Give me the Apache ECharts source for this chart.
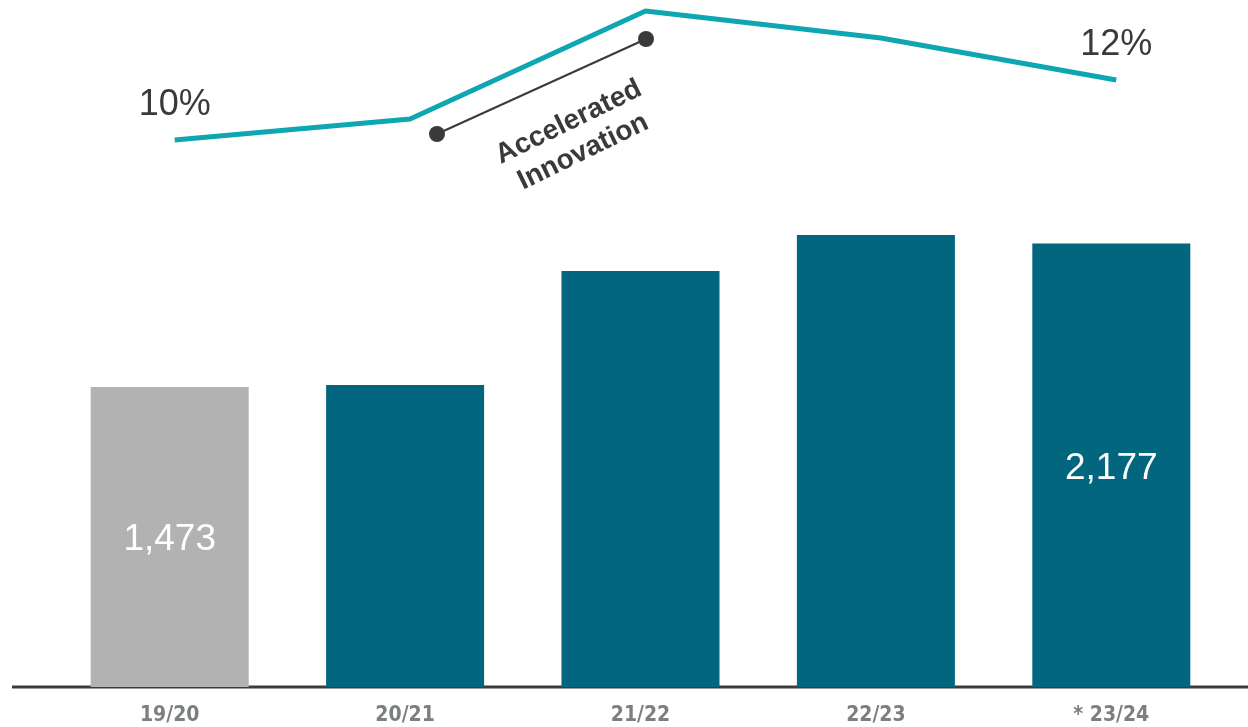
<!DOCTYPE html>
<html style="height: 100%">
<head>
    <meta charset="utf-8" />
    <title>Bar Line Chart</title>
    <script type="text/javascript" src="https://cdn.jsdelivr.net/npm/echarts@6/dist/echarts.min.js"></script>
</head>
<body style="height: 100%; margin: 0; background: #fff">
<div id="main" style="width: 1248px; height: 727px"></div>
<script type="text/javascript">
      // data
      var categories = ["19/20", "20/21", "21/22", "22/23", "* 23/24"];
      var barValues = [1473, 1483, 2042, 2219, 2177];
      var lineValues = [10.0, 10.7, 14.3, 13.4, 12.0];
      var barLabels = ["1,473", "", "", "", "2,177"];
      var lineLabels = ["10%", "", "", "", "12%"];

      var teal = "#02677e", grey = "#b1b2b1", lineColor = "#0ea6b1", dark = "#3a3a3a";

      let myChart = echarts.init(document.getElementById("main"));
      var option = {
        animation: false,
        grid: [
          { left: 52, right: 19, top: 76, bottom: 40 },
          { left: 57, right: 14, top: 5, height: 165 }
        ],
        xAxis: [
          {
            type: "category", gridIndex: 0, data: categories,
            axisLine: { show: false }, axisTick: { show: false },
            axisLabel: {
              margin: 18, color: "#7c807d", fontSize: 21, fontWeight: "bold",
              fontFamily: "DejaVu Sans Condensed, Liberation Sans Narrow, sans-serif"
            }
          },
          { type: "category", gridIndex: 1, data: categories, show: false }
        ],
        yAxis: [
          { type: "value", gridIndex: 0, min: 0, max: 3000, show: false },
          { type: "value", gridIndex: 1, min: 9, max: 14.5, show: false }
        ],
        series: [
          {
            type: "bar",
            xAxisIndex: 0, yAxisIndex: 0,
            barWidth: 158,
            data: barValues.map(function (v, i) {
              return {
                value: v,
                itemStyle: { color: i === 0 ? grey : teal },
                label: {
                  show: barLabels[i] !== "", position: "inside", offset: [0, 3],
                  formatter: barLabels[i], color: "#fff", fontSize: 37,
                  fontFamily: "Liberation Sans, Arial, sans-serif"
                }
              };
            })
          },
          {
            type: "line",
            xAxisIndex: 1, yAxisIndex: 1,
            symbol: "circle", symbolSize: 1, showSymbol: true,
            itemStyle: { color: "rgba(0,0,0,0)" },
            lineStyle: { color: lineColor, width: 5 },
            data: lineValues.map(function (v, i) {
              return {
                value: v,
                label: {
                  show: lineLabels[i] !== "", position: "top", distance: 16,
                  formatter: lineLabels[i], color: dark, fontSize: 36,
                  fontFamily: "Liberation Sans, Arial, sans-serif"
                }
              };
            })
          }
        ],
        graphic: [
          // baseline
          { type: "line", shape: { x1: 12, y1: 687, x2: 1248, y2: 687 },
            style: { stroke: "#3c3c3a", lineWidth: 3 } },
          // annotation
          { type: "line", shape: { x1: 437, y1: 134, x2: 646, y2: 39 },
            style: { stroke: dark, lineWidth: 2 } },
          { type: "circle", shape: { cx: 437, cy: 134, r: 8 }, style: { fill: dark } },
          { type: "circle", shape: { cx: 646, cy: 39, r: 8 }, style: { fill: dark } },
          { type: "text", x: 576, y: 137, rotation: 26 * Math.PI / 180,
            style: {
              text: "Accelerated\nInnovation", fill: dark, fontSize: 28, fontWeight: "bold",
              lineHeight: 33, align: "center", verticalAlign: "middle",
              fontFamily: "Liberation Sans, Arial, sans-serif"
            } }
        ]
      };
      myChart.setOption(option);
</script>
</body>
</html>
